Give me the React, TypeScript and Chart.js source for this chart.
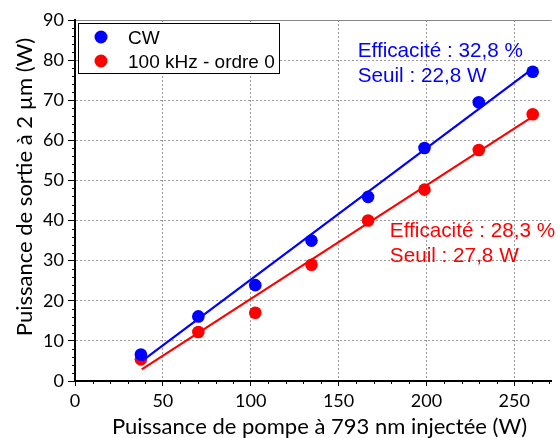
import React, { useEffect, useRef } from "react";
import { Chart, registerables } from "chart.js";

Chart.register(...registerables);

// ---- data ----
const pumpPower = [37.5, 70.2, 102.6, 134.6, 166.8, 198.9, 229.8, 260.5];
const cwOutput = [6.6, 16.1, 23.9, 35.0, 45.9, 58.1, 69.5, 77.1];
const pulsedOutput = [5.4, 12.2, 17.0, 29.0, 40.0, 47.7, 57.6, 66.5];
const cwFitX = [38.4, 260.5];
const cwFitY = [5.1, 77.9];
const pulsedFitX = [38.0, 260.5];
const pulsedFitY = [2.9, 65.9];
const legendLabels = ["CW", "100 kHz - ordre 0"];
const cwAnnotation = ["Efficacité : 32,8 %", "Seuil : 22,8 W"];
const pulsedAnnotation = ["Efficacité : 28,3 %", "Seuil : 27,8 W"];
const xTitle = "Puissance de pompe à 793 nm injectée (W)";
const yTitle = "Puissance de sortie à 2 µm (W)";
const xMin = 0;
const xMax = 271.3;
const xStep = 50;
const xMinorStep = 10;
const yMin = 0;
const yMax = 90;
const yStep = 10;
const yMinorStep = 2;

const BLUE = "#0000ff";
const RED = "#ff0000";
const AXIS_FONT = "Lato";
const TEXT_FONT = "'Liberation Sans', Arial, sans-serif";

const pts = (xs: number[], ys: number[]) => xs.map((x, i) => ({ x, y: ys[i] }));

const overlayPlugin = {
  id: "overlay",
  afterDraw(chart: any) {
    const { ctx, chartArea, scales } = chart;
    const xs = scales.x;
    const ys = scales.y;
    ctx.save();
    // minor ticks
    ctx.strokeStyle = "#000";
    ctx.lineWidth = 1;
    ctx.beginPath();
    for (let v = xMin + xMinorStep; v < xMax; v += xMinorStep) {
      if (Math.abs(v % xStep) < 1e-6) continue;
      const px = Math.round(xs.getPixelForValue(v)) + 0.5;
      ctx.moveTo(px, chartArea.bottom);
      ctx.lineTo(px, chartArea.bottom + 3);
    }
    for (let v = yMin + yMinorStep; v < yMax; v += yMinorStep) {
      if (Math.abs(v % yStep) < 1e-6) continue;
      const py = Math.round(ys.getPixelForValue(v)) + 0.5;
      ctx.moveTo(chartArea.left - 3, py);
      ctx.lineTo(chartArea.left, py);
    }
    ctx.stroke();

    // legend
    const lx = chartArea.left + 3;
    const ly = chartArea.top + 3;
    ctx.fillStyle = "#fff";
    ctx.fillRect(lx, ly, 201, 50);
    ctx.strokeStyle = "#000";
    ctx.lineWidth = 1;
    ctx.strokeRect(lx + 0.5, ly + 0.5, 201, 50);
    const colors = [BLUE, RED];
    ctx.font = `19px ${TEXT_FONT}`;
    ctx.textAlign = "left";
    ctx.textBaseline = "alphabetic";
    legendLabels.forEach((lab, i) => {
      const cy = ly + 14 + i * 24;
      ctx.fillStyle = colors[i];
      ctx.beginPath();
      ctx.arc(lx + 23, cy, 6.5, 0, Math.PI * 2);
      ctx.fill();
      ctx.fillStyle = "#000";
      ctx.fillText(lab, lx + 50, cy + 6.5);
    });

    // annotations
    ctx.font = `20.7px ${TEXT_FONT}`;
    ctx.fillStyle = BLUE;
    const bx = xs.getPixelForValue(160.9);
    const by = ys.getPixelForValue(80.8);
    cwAnnotation.forEach((t, i) => ctx.fillText(t, bx, by + i * 25));
    ctx.fillStyle = RED;
    const rx = xs.getPixelForValue(179.2);
    const ry = ys.getPixelForValue(35.9);
    pulsedAnnotation.forEach((t, i) => ctx.fillText(t, rx, ry + i * 25));

    // axis titles
    ctx.fillStyle = "#000";
    ctx.font = `22px ${AXIS_FONT}`;
    ctx.textAlign = "center";
    ctx.textBaseline = "alphabetic";
    ctx.fillText(xTitle, 319.5, 434);
    ctx.save();
    ctx.translate(32, 187);
    ctx.rotate(-Math.PI / 2);
    ctx.fillText(yTitle, 0, 0);
    ctx.restore();
    ctx.restore();
  },
};

export default function App() {
  const ref = useRef<HTMLCanvasElement | null>(null);
  useEffect(() => {
    if (!ref.current) return;
    const gridColor = (c: any) => (c.tick && c.tick.value === yMax ? "#888" : "#999");
    const chart = new Chart(ref.current, {
      type: "scatter",
      data: {
        datasets: [
          {
            data: pts(cwFitX, cwFitY),
            showLine: true,
            borderColor: BLUE,
            borderWidth: 2.2,
            pointRadius: 0,
            fill: false,
          },
          {
            data: pts(pulsedFitX, pulsedFitY),
            showLine: true,
            borderColor: RED,
            borderWidth: 2.2,
            pointRadius: 0,
            fill: false,
          },
          {
            data: pts(pumpPower, cwOutput),
            backgroundColor: BLUE,
            borderColor: BLUE,
            pointRadius: 6.3,
            borderWidth: 0,
          },
          {
            data: pts(pumpPower, pulsedOutput),
            backgroundColor: RED,
            borderColor: RED,
            pointRadius: 6.3,
            borderWidth: 0,
          },
        ],
      },
      options: {
        animation: false,
        responsive: false,
        devicePixelRatio: 1,
        layout: { padding: { top: 20, right: 0, left: 0, bottom: 0 } },
        plugins: { legend: { display: false }, tooltip: { enabled: false } },
        scales: {
          x: {
            type: "linear",
            min: xMin,
            max: xMax,
            afterFit: (s: any) => {
              s.height = 57;
            },
            ticks: {
              stepSize: xStep,
              includeBounds: false,
              color: "#000",
              font: { family: AXIS_FONT, size: 18 },
              padding: 4,
              maxRotation: 0,
            },
            grid: {
              color: "#999",
              lineWidth: 1,
              tickColor: "#000",
              tickLength: 5,
              tickWidth: 1,
            },
            border: { color: "#000", width: 2, dash: [2, 2] },
          },
          y: {
            type: "linear",
            min: yMin,
            max: yMax,
            afterFit: (s: any) => {
              s.width = 75;
            },
            ticks: {
              stepSize: yStep,
              color: "#000",
              font: { family: AXIS_FONT, size: 18 },
              padding: 4,
            },
            grid: {
              color: gridColor,
              lineWidth: 1,
              tickColor: "#000",
              tickLength: 7,
              tickWidth: 1,
            },
            border: {
              color: "#000",
              width: 2,
              dash: (c: any) => (c.tick && c.tick.value === yMax ? [] : [2, 2]),
            },
          },
        },
      } as any,
      plugins: [overlayPlugin],
    });
    return () => chart.destroy();
  }, []);
  return (
    <div style={{ position: "fixed", left: 0, top: 0, width: 558, height: 438, background: "#fff" }}>
      <canvas ref={ref} width={558} height={438} style={{ display: "block" }} />
    </div>
  );
}
